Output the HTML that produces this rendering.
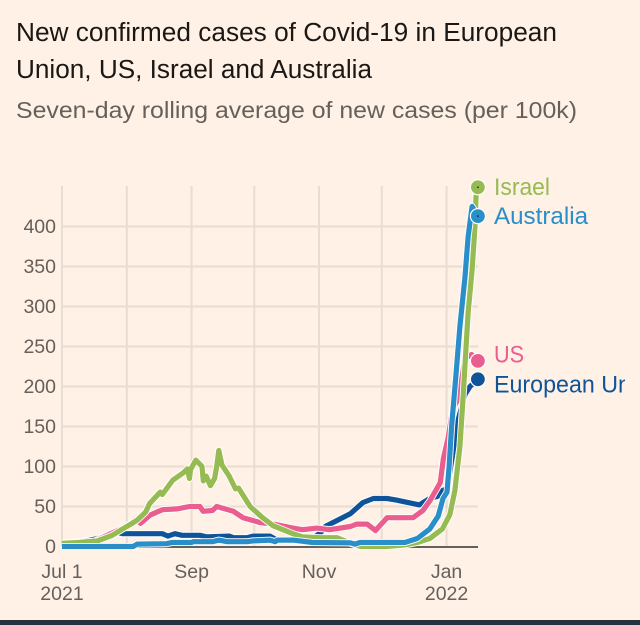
<!DOCTYPE html>
<html lang="en">
<head>
<meta charset="utf-8">
<title>New confirmed cases of Covid-19</title>
<style>
  html, body { margin: 0; padding: 0; background: #fff1e5; }
  #stage { position: relative; width: 640px; height: 625px; overflow: hidden; background: #fff1e5; }
  svg { position: absolute; left: 0; top: 0; display: block; }
  text { font-family: "Liberation Sans", sans-serif; }
  .tick { fill: #66605c; font-size: 19.5px; }
  .label { font-size: 24px; }
</style>
</head>
<body>
<div id="stage">
<svg id="chart" width="640" height="625" viewBox="0 0 640 625" xmlns="http://www.w3.org/2000/svg">
  <defs>
    <clipPath id="page-clip"><rect x="0" y="0" width="625" height="625"></rect></clipPath>
  </defs>
  <text x="16" y="41" font-size="25.5" fill="#1a1715" textLength="541" lengthAdjust="spacingAndGlyphs">New confirmed cases of Covid-19 in European</text>
  <text x="16" y="78" font-size="25.5" fill="#1a1715" textLength="356" lengthAdjust="spacingAndGlyphs">Union, US, Israel and Australia</text>
  <text x="16" y="118" font-size="23.5" fill="#66605c" textLength="561" lengthAdjust="spacingAndGlyphs">Seven-day rolling average of new cases (per 100k)</text>
  <g id="grid"></g>
  <g id="series"></g>
  <g id="markers"></g>
  <g id="labels" clip-path="url(#page-clip)"></g>
  <rect x="0" y="620" width="640" height="5" fill="#23343f"></rect>
</svg>
</div>
<script>
const yTicks = [0, 50, 100, 150, 200, 250, 300, 350, 400];
const xGridDays = [0, 31, 62, 92, 123, 153, 184];
const xTickDays = [0, 62, 123, 184];
const xTickLabels = ["Jul 1", "Sep", "Nov", "Jan"];
const xTickYears = ["2021", "", "", "2022"];

const euDays = [0, 8, 12, 17, 22, 26, 29, 31, 48, 50.7, 54, 57.4, 66, 69.4, 80, 82, 88.5, 91.4, 99.5, 103, 118, 124, 126, 138, 144, 149, 155.5, 160, 171, 176, 180, 182, 184.2, 186.6, 189.5, 192.8, 195.2, 199];
const euCases = [4, 6, 7, 10, 14, 18, 16, 16, 16, 13, 16, 14, 14, 12, 13, 11, 11, 13, 13, 8, 6, 18, 25, 41, 55, 60, 60, 58, 52, 60, 63, 70, 72, 110, 158, 190, 200, 209];

const usDays = [0, 15, 30, 36, 37.5, 38.5, 42, 48, 55, 61, 66, 67.5, 72, 74, 82, 86.6, 94.7, 101, 110.5, 115, 122, 128, 138, 141, 146, 150, 155.5, 168, 172.7, 176, 181, 182.5, 184.7, 185.6, 187, 190, 192.8, 196, 199];
const usCases = [4, 6, 24, 33, 29, 31, 39, 46, 47, 50, 50, 44, 45, 50, 44, 36, 30, 28, 23, 21, 23, 21, 25, 28, 28, 20, 36, 36, 45, 57, 80, 110, 135, 150, 172, 187, 235, 240, 232];

const israelDays = [0, 8, 17, 24, 31, 36, 40, 42, 47, 48, 53, 58, 60, 61, 61.5, 64, 67, 67.6, 69, 71, 73, 74, 75, 76.5, 80, 83, 84.5, 90, 96, 101, 110.5, 115, 123, 131.6, 138, 143, 155, 164, 170, 176, 182, 185.6, 188, 190.4, 191.9, 194.3, 196.2, 197.6, 198.1, 199];
const israelCases = [4, 5, 7, 14, 25, 33, 43, 54, 68, 65, 83, 92, 97, 85, 96, 108, 100, 82, 88, 76, 85, 100, 120, 102, 88, 72, 73, 50, 36, 26, 16, 12, 11, 11, 4, 0, 0, 2, 5, 10, 22, 40, 70, 125, 187, 292, 346, 400, 437, 449];

const australiaDays = [0, 34, 36, 50, 52.6, 62, 62.7, 72, 75, 79, 88.5, 91.4, 99.5, 102, 103, 110.5, 120, 138, 140.2, 142.6, 164, 170, 176, 180, 182.3, 184.2, 185.2, 186.4, 187.6, 188.5, 190.4, 192.8, 194.3, 196.2, 199];
const australiaCases = [0, 0, 3, 3.5, 5, 5, 6, 6, 8, 6, 6, 7, 8, 6, 8, 8, 5, 4.5, 3, 5, 5, 10, 22, 38, 60, 68, 100, 150, 187, 215, 275, 337, 387, 425, 413];

const SVG_NS = "http://www.w3.org/2000/svg";
const PLOT_LEFT = 62, PX_PER_DAY = 2.09, PLOT_RIGHT = 478, PLOT_TOP = 186;
const BASELINE_Y = 546.5, PX_PER_CASE = 0.8;
const xScale = function (day) { return PLOT_LEFT + day * PX_PER_DAY; };
const yScale = function (value) { return BASELINE_Y - value * PX_PER_CASE; };
const LAST_DAY = 199;

function svgEl(tag, attrs, parent) {
  const el = document.createElementNS(SVG_NS, tag);
  Object.keys(attrs).forEach(function (k) { el.setAttribute(k, attrs[k]); });
  parent.appendChild(el);
  return el;
}

const gridGroup = document.getElementById("grid");
const seriesGroup = document.getElementById("series");
const markerGroup = document.getElementById("markers");
const labelGroup = document.getElementById("labels");

xGridDays.forEach(function (d) {
  const line = svgEl("line", { x1: xScale(d), x2: xScale(d), y1: PLOT_TOP, y2: BASELINE_Y, stroke: "#e9dcd0", "stroke-width": 2 }, gridGroup);
  
  
});

yTicks.forEach(function (t) {
  if (t > 0) {
    const line = svgEl("line", { x1: PLOT_LEFT, x2: PLOT_RIGHT, y1: yScale(t), y2: yScale(t), stroke: "#e9dcd0", "stroke-width": 2 }, gridGroup);
    
    
  }
  const label = svgEl("text", { x: 56, y: yScale(t) + 6.5, "text-anchor": "end", class: "tick" }, gridGroup);
  
  
  label.textContent = String(t);
});

const axisLine = svgEl("line", { x1: PLOT_LEFT, x2: PLOT_RIGHT, y1: 547, y2: 547, stroke: "#66605c", "stroke-width": 2 }, gridGroup);



xTickDays.forEach(function (d, i) {
  const month = svgEl("text", { x: xScale(d), y: 578, "text-anchor": "middle", class: "tick" }, gridGroup);
  
  
  month.textContent = xTickLabels[i];
  if (xTickYears[i]) {
    const year = svgEl("text", { x: xScale(d), y: 600, "text-anchor": "middle", class: "tick" }, gridGroup);
    
    
    year.textContent = xTickYears[i];
  }
});

function drawSeries(days, values, color) {
  const d = days.map(function (day, i) {
    return (i ? "L" : "M") + xScale(day).toFixed(1) + " " + yScale(values[i]).toFixed(1);
  }).join("");
  const halo = svgEl("path", { d: d, fill: "none", stroke: "#ffffff", "stroke-width": 7, "stroke-linejoin": "round", "stroke-linecap": "butt" }, seriesGroup);
  
  
  const line = svgEl("path", { d: d, fill: "none", stroke: color, "stroke-width": 5.2, "stroke-linejoin": "round", "stroke-linecap": "butt" }, seriesGroup);
  
  
}

function drawMarker(values, color, hasDot) {
  const cy = yScale(values[values.length - 1]);
  const cx = xScale(LAST_DAY);
  const circle = svgEl("circle", { cx: cx, cy: cy, r: 7.5, fill: color, stroke: "#ffffff", "stroke-width": 1.2 }, markerGroup);
  
  
  if (hasDot) {
    const dot = svgEl("circle", { cx: cx, cy: cy, r: 0.8, fill: "#1a1715" }, markerGroup);
    
    
  }
}

function drawLabel(text, values, color, width, offsetY) {
  const attrs = { x: 494, y: yScale(values[values.length - 1]) + offsetY, fill: color, class: "label", textLength: width, lengthAdjust: "spacingAndGlyphs" };
  const label = svgEl("text", attrs, labelGroup);
  
  
  label.textContent = text;
}

const euColor = "#0f5499", usColor = "#e95d8f", israelColor = "#96bb52", australiaColor = "#2a8fc9";

drawSeries(euDays, euCases, euColor);
drawSeries(usDays, usCases, usColor);
drawSeries(israelDays, israelCases, israelColor);
drawSeries(australiaDays, australiaCases, australiaColor);

drawMarker(euCases, euColor, false);
drawMarker(usCases, usColor, false);
drawMarker(israelCases, israelColor, true);
drawMarker(australiaCases, australiaColor, true);

drawLabel("European Union", euCases, euColor, 168, 13);
drawLabel("US", usCases, usColor, 30, 1.5);
drawLabel("Israel", israelCases, israelColor, 56, 7.5);
drawLabel("Australia", australiaCases, australiaColor, 94, 8);
</script>
</body>
</html>
